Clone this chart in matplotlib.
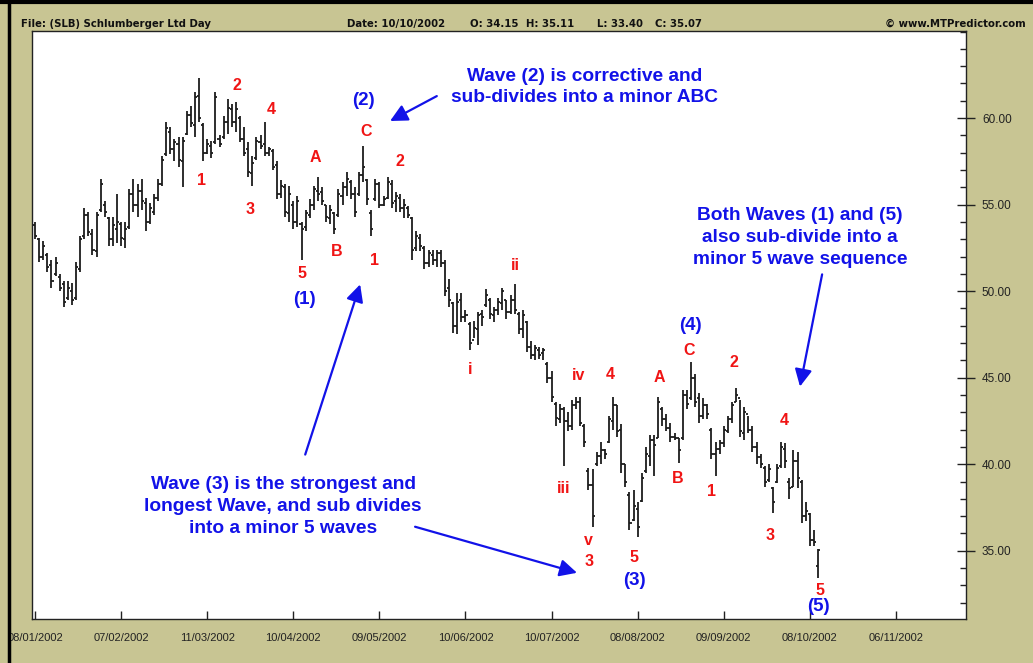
import matplotlib
matplotlib.use("Agg")
import matplotlib.pyplot as plt
from matplotlib.lines import Line2D
from matplotlib.ticker import FixedLocator, MultipleLocator, FuncFormatter
import numpy as np

# SLB daily bars 08/01/2002 .. 10/10/2002
opens = [
    53.8, 53.0, 52.0, 52.1, 51.5, 51.0, 50.8, 50.4, 49.6, 50.0,
    49.6, 51.3, 53.2, 54.4, 53.3, 52.3, 54.7, 55.0, 54.2, 53.0,
    53.6, 53.9, 53.0, 53.7, 55.6, 55.0, 55.8, 55.1, 54.0, 54.6,
    55.4, 56.2, 57.9, 59.2, 58.2, 58.5, 57.5, 59.1, 60.2, 59.6,
    61.3, 59.6, 58.0, 58.4, 58.6, 58.8, 58.9, 59.8, 60.5, 59.8,
    60.0, 58.8, 58.2, 56.8, 57.7, 58.6, 58.5, 58.0, 58.1, 57.3,
    55.6, 56.0, 54.5, 55.0, 54.0, 53.9, 53.7, 54.4, 55.0, 55.8,
    55.7, 55.0, 54.2, 54.5, 54.4, 55.5, 56.0, 56.3, 55.6, 55.6,
    56.7, 56.4, 54.5, 55.3, 56.2, 55.0, 55.4, 56.2, 55.2, 55.4,
    54.8, 54.8, 54.2, 52.5, 53.1, 52.5, 51.6, 52.1, 51.8, 52.2,
    51.6, 50.2, 49.3, 48.0, 49.5, 48.5, 48.1, 47.2, 47.8, 48.7,
    49.2, 49.5, 48.6, 48.9, 49.3, 49.5, 48.8, 49.5, 48.7, 47.8,
    48.2, 46.8, 46.3, 46.6, 46.4, 45.8, 45.0, 43.5, 42.6, 43.2,
    42.5, 42.2, 43.4, 43.6, 42.2, 39.6, 38.8, 40.0, 40.5, 40.8,
    41.3, 42.5, 43.4, 42.0, 40.0, 38.2, 36.8, 37.4, 37.9, 39.6,
    40.5, 41.4, 41.5, 43.2, 42.6, 42.1, 41.6, 41.5, 41.5, 44.0,
    43.8, 45.0, 43.8, 42.8, 43.4, 42.0, 40.6, 40.9, 41.2, 41.9,
    42.6, 43.6, 43.8, 41.8, 42.9, 42.0, 41.0, 40.4, 39.8, 39.1,
    38.6, 39.0, 39.9, 40.9, 39.0, 38.7, 40.2, 39.0, 37.0, 37.1,
    35.6, 34.15,
]
highs = [
    54.0, 53.1, 52.9, 52.2, 51.8, 52.0, 51.0, 50.6, 50.6, 50.5,
    51.7, 53.2, 54.8, 54.6, 53.6, 54.6, 56.5, 55.2, 54.3, 54.3,
    55.6, 54.0, 54.0, 55.9, 56.5, 56.2, 56.5, 55.4, 55.1, 55.6,
    56.5, 57.8, 59.8, 59.5, 58.8, 58.9, 58.9, 60.4, 60.7, 61.5,
    62.3, 59.7, 58.8, 58.7, 61.5, 59.0, 60.1, 61.1, 60.8, 60.9,
    60.1, 59.5, 58.6, 57.8, 58.9, 59.0, 59.8, 58.3, 58.2, 57.5,
    56.4, 56.2, 56.1, 55.2, 55.5, 54.0, 54.7, 55.3, 56.1, 56.6,
    56.0, 55.0, 55.0, 54.6, 55.9, 56.3, 56.9, 56.4, 56.0, 56.9,
    58.4, 56.5, 54.7, 56.5, 56.3, 55.5, 56.6, 56.4, 55.7, 55.6,
    55.3, 54.9, 54.3, 53.5, 53.3, 52.6, 52.4, 52.4, 52.4, 52.4,
    51.8, 50.7, 49.4, 49.9, 49.9, 48.9, 48.2, 48.3, 48.8, 48.9,
    50.1, 49.6, 49.1, 49.6, 50.2, 49.5, 49.8, 50.4, 48.8, 48.9,
    48.3, 47.1, 46.9, 46.8, 46.7, 45.9, 45.4, 43.6, 43.5, 43.3,
    43.0, 43.7, 43.9, 43.9, 42.3, 39.8, 39.7, 40.7, 41.3, 40.9,
    42.8, 43.9, 43.4, 42.3, 40.0, 38.4, 38.5, 37.8, 39.5, 41.0,
    41.7, 41.7, 43.9, 43.3, 42.9, 42.4, 41.8, 41.5, 44.3, 44.3,
    45.9, 45.2, 44.1, 43.8, 43.5, 42.1, 41.3, 41.4, 42.2, 42.8,
    43.6, 44.4, 43.7, 43.3, 42.8, 42.2, 41.3, 40.6, 39.9, 40.0,
    38.7, 40.0, 41.3, 41.2, 39.2, 40.8, 40.7, 39.1, 37.8, 37.2,
    36.2, 35.11,
]
lows = [
    53.0, 51.7, 51.8, 51.1, 50.2, 50.9, 50.0, 49.1, 49.5, 49.2,
    49.5, 51.1, 53.0, 53.2, 52.1, 52.0, 54.6, 54.3, 52.6, 52.6,
    52.8, 52.6, 52.5, 53.6, 54.6, 54.3, 54.7, 53.5, 53.9, 54.4,
    55.2, 56.1, 57.8, 57.9, 57.5, 57.2, 56.0, 59.0, 59.5, 58.9,
    59.8, 57.5, 57.9, 57.7, 58.5, 58.3, 58.8, 59.1, 59.5, 59.2,
    58.6, 57.8, 56.6, 56.1, 57.6, 58.2, 57.8, 57.8, 57.0, 55.3,
    55.4, 54.3, 54.0, 53.6, 53.7, 51.8, 53.5, 54.2, 54.7, 55.2,
    55.0, 54.0, 53.9, 53.3, 54.3, 55.0, 55.5, 55.3, 54.3, 55.5,
    56.3, 55.0, 53.2, 55.2, 54.8, 54.9, 55.3, 54.8, 54.6, 54.6,
    54.2, 54.2, 51.8, 52.3, 52.3, 51.3, 51.4, 51.5, 51.4, 51.4,
    49.7, 49.1, 47.6, 47.5, 48.2, 48.2, 46.6, 47.3, 46.9, 48.0,
    49.1, 48.4, 48.2, 48.6, 48.9, 48.4, 48.7, 48.7, 47.5, 47.3,
    46.5, 46.1, 46.0, 46.1, 46.0, 44.7, 43.6, 42.2, 42.4, 39.9,
    41.9, 42.0, 43.2, 42.2, 41.0, 38.5, 36.4, 39.9, 40.0, 40.3,
    41.2, 42.0, 41.6, 39.5, 38.7, 36.2, 36.7, 35.8, 37.8, 39.5,
    39.9, 39.3, 41.5, 42.2, 41.9, 41.3, 41.4, 40.1, 41.4, 43.2,
    43.7, 43.3, 42.4, 42.6, 42.6, 40.3, 39.3, 40.6, 41.0, 41.8,
    42.4, 43.6, 41.6, 41.4, 41.8, 40.7, 40.0, 39.8, 38.7, 39.0,
    37.2, 38.9, 39.8, 39.8, 38.0, 38.7, 38.6, 36.6, 36.7, 35.3,
    35.3, 33.40,
]
closes = [
    53.2, 52.0, 52.6, 51.4, 50.6, 51.6, 50.2, 49.4, 50.2, 49.5,
    51.4, 53.0, 54.4, 53.4, 52.4, 54.4, 56.2, 54.6, 53.0, 53.8,
    54.0, 53.1, 53.6, 55.6, 55.0, 55.8, 55.2, 54.0, 54.8, 55.4,
    56.2, 57.6, 59.4, 58.2, 58.6, 57.6, 58.7, 60.2, 59.7, 61.2,
    60.0, 58.0, 58.5, 58.0, 61.2, 58.5, 59.8, 60.6, 59.8, 60.5,
    58.8, 58.0, 56.9, 57.4, 58.7, 58.4, 58.0, 58.2, 57.2, 55.6,
    56.1, 54.6, 55.6, 54.0, 55.2, 53.6, 54.5, 55.0, 55.9, 55.6,
    55.2, 54.3, 54.7, 53.6, 55.6, 56.0, 56.5, 55.6, 54.6, 56.7,
    57.2, 55.3, 53.6, 56.2, 55.0, 55.3, 56.3, 55.1, 55.5, 54.8,
    55.0, 54.4, 52.4, 53.2, 52.6, 51.6, 52.2, 51.8, 52.2, 51.6,
    50.0, 49.5, 48.0, 49.4, 48.5, 48.6, 47.0, 47.9, 48.6, 48.5,
    49.8, 48.7, 48.9, 49.4, 50.0, 48.8, 49.5, 48.9, 47.8, 48.6,
    46.8, 46.3, 46.7, 46.3, 46.6, 45.0, 43.9, 42.7, 43.2, 42.5,
    42.2, 43.4, 43.6, 42.4, 41.3, 38.8, 37.0, 40.5, 40.8, 40.6,
    42.6, 43.4, 41.9, 40.0, 39.0, 36.6, 37.6, 36.4, 39.2, 40.6,
    41.4, 41.1, 43.6, 42.6, 42.1, 41.6, 41.5, 40.8, 44.0, 43.5,
    45.0, 43.6, 42.8, 43.4, 42.9, 40.6, 40.9, 41.2, 42.0, 42.6,
    43.4, 44.0, 41.9, 43.0, 42.0, 41.0, 40.4, 40.0, 39.0, 39.7,
    37.8, 39.8, 41.0, 40.2, 38.6, 40.2, 39.2, 37.0, 37.3, 35.6,
    35.5, 35.07,
]

date_labels = ["08/01/2002", "07/02/2002", "11/03/2002", "10/04/2002",
               "09/05/2002", "10/06/2002", "10/07/2002", "08/08/2002",
               "09/09/2002", "08/10/2002", "06/11/2002"]
bars_per_label = 21
price_ticks = [35, 40, 45, 50, 55, 60]

# minor wave counts (red) and major wave counts (blue): (text, bar, price)
minor_waves = [
    ("1", 40.7, 56.4), ("2", 49.3, 61.9), ("3", 52.4, 54.7), ("4", 57.6, 60.5),
    ("5", 65.1, 51.0), ("A", 68.3, 57.7), ("B", 73.7, 52.3), ("C", 80.7, 59.2),
    ("1", 82.7, 51.8), ("2", 89.0, 57.5), ("ii", 117.1, 51.5), ("i", 106.1, 45.5),
    ("iii", 129.0, 38.6), ("iv", 132.7, 45.1), ("4", 140.2, 45.2), ("v", 135.1, 35.6),
    ("3", 135.1, 34.4), ("5", 146.1, 34.6), ("A", 152.2, 45.0), ("B", 156.8, 39.2),
    ("C", 159.5, 46.6), ("1", 165.1, 38.4), ("2", 170.5, 45.9), ("3", 179.3, 35.9),
    ("4", 182.7, 42.5), ("5", 191.5, 32.7),
]
major_waves = [
    ("(1)", 65.6, 49.5), ("(2)", 80.0, 61.0), ("(3)", 146.3, 33.3),
    ("(4)", 159.8, 48.0), ("(5)", 191.0, 31.8),
]
notes = [
    ("Wave (2) is corrective and\nsub-divides into a minor ABC", 134.1, 61.8),
    ("Wave (3) is the strongest and\nlongest Wave, and sub divides\ninto a minor 5 waves", 60.5, 37.55),
    ("Both Waves (1) and (5)\nalso sub-divide into a\nminor 5 wave sequence", 186.6, 53.1),
]
# arrows: (tail bar, tail price, head bar, head price)
arrows = [
    (98.0, 61.27, 86.6, 59.83),
    (65.9, 40.56, 79.3, 50.39),
    (92.7, 36.39, 132.2, 33.73),
    (192.0, 50.97, 186.6, 44.49),
]

BG = "#C8C593"
BLUE = "#1212E8"
RED = "#F01414"
BAR = "#1c1c1c"
FONT = "Liberation Sans"

fig = plt.figure(figsize=(10.33, 6.63), dpi=100, facecolor=BG)
ax = fig.add_axes([32 / 1033, 1 - 619 / 663, 934 / 1033, 588 / 663])
ax.set_facecolor("white")

# OHLC bars
x = np.arange(len(highs))
ax.vlines(x, lows, highs, color=BAR, lw=1.3)
ax.hlines(opens, x - 0.5, x, color=BAR, lw=1.3)
ax.hlines(closes, x, x + 0.5, color=BAR, lw=1.3)

ax.set_xlim(-0.75, 227.1)
ax.set_ylim(31.06, 65.03)

# axes / ticks
ticks = [i * bars_per_label for i in range(len(date_labels))]
ax.set_xticks(ticks)
ax.set_xticklabels(date_labels, fontsize=8, family=FONT, color="#222222")
ax.tick_params(axis="x", direction="in", length=6, width=1, pad=10, color="#222222")

ax.yaxis.tick_right()
ax.yaxis.set_major_locator(FixedLocator(price_ticks))
ax.yaxis.set_minor_locator(MultipleLocator(1))
ax.yaxis.set_major_formatter(FuncFormatter(lambda v, p: f"{v:.2f}"))
ax.tick_params(axis="y", which="major", direction="inout", length=13, width=1,
               pad=5, labelsize=8.5, labelcolor="#222222", color="#222222")
ax.tick_params(axis="y", which="minor", direction="in", length=4, width=1, color="#222222")
for lab in ax.get_yticklabels():
    lab.set_family(FONT)
for s in ax.spines.values():
    s.set_color("#222222")
    s.set_linewidth(1)

# wave labels
for t, bx, py in minor_waves:
    ax.text(bx, py, t, color=RED, fontsize=11.5, fontweight="bold", family=FONT,
            ha="center", va="center")
for t, bx, py in major_waves:
    ax.text(bx, py, t, color=BLUE, fontsize=13.5, fontweight="bold", family=FONT,
            ha="center", va="center", clip_on=False)
for t, bx, py in notes:
    ax.text(bx, py, t, color=BLUE, fontsize=13.8, fontweight="bold", family=FONT,
            ha="center", va="center", linespacing=1.36)
for x0, y0, x1, y1 in arrows:
    ax.annotate("", xy=(x1, y1), xytext=(x0, y0),
                arrowprops=dict(arrowstyle="-|>", color=BLUE, lw=1.6,
                                mutation_scale=26, shrinkA=0, shrinkB=0))

# header line
hy = 1 - 24 / 663
hdr = dict(fontsize=7.3, fontweight="bold", color="#111111", va="center", family="DejaVu Sans")
fig.text(21 / 1033, hy, "File: (SLB) Schlumberger Ltd Day", **hdr)
fig.text(347 / 1033, hy, "Date: 10/10/2002", **hdr)
fig.text(470 / 1033, hy, "O: 34.15", **hdr)
fig.text(526 / 1033, hy, "H: 35.11", **hdr)
fig.text(597 / 1033, hy, "L: 33.40", **hdr)
fig.text(655 / 1033, hy, "C: 35.07", **hdr)
fig.text(1026 / 1033, hy, "\u00a9 www.MTPredictor.com", ha="right", **hdr)

# outer frame lines
fig.add_artist(Line2D([0, 1], [1 - 1.5 / 663] * 2, color="black", lw=3, transform=fig.transFigure))
fig.add_artist(Line2D([9 / 1033] * 2, [0, 1], color="black", lw=2.5, transform=fig.transFigure))

fig.savefig("out.png", dpi=100, facecolor=BG)
